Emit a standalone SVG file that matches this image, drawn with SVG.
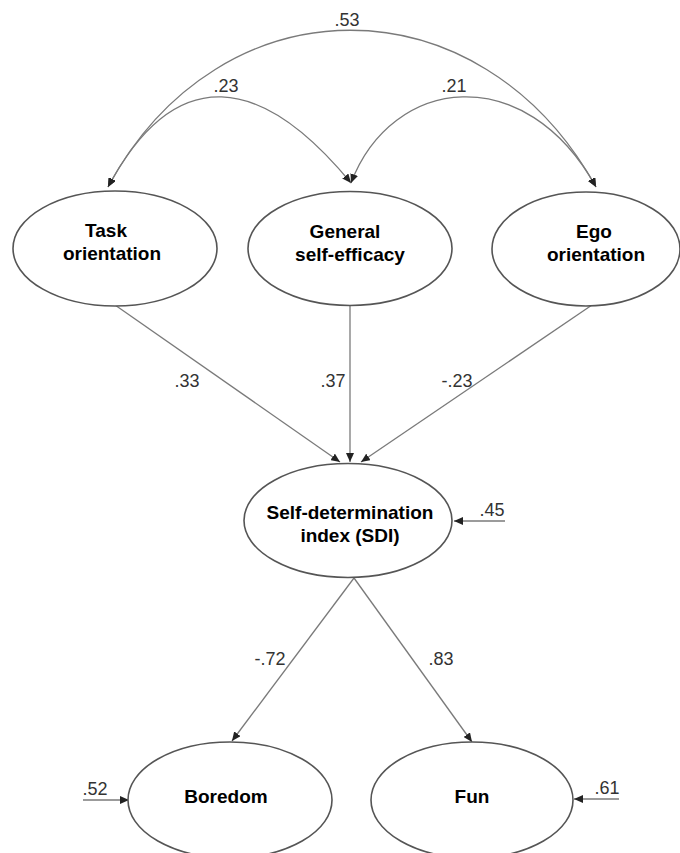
<svg xmlns="http://www.w3.org/2000/svg" width="680" height="853" viewBox="0 0 680 853">
<defs>
<marker id="ah" markerUnits="userSpaceOnUse" markerWidth="10" markerHeight="8" refX="9" refY="4" orient="auto-start-reverse">
<path d="M0,0 L9,4 L0,8 Z" fill="#222"/>
</marker>
<style>
.node{fill:#fff;stroke:#555;stroke-width:1.6}
.lbl{font-family:"Liberation Sans",Arial,sans-serif;font-weight:bold;font-size:19px;fill:#000;text-anchor:middle}
.num{font-family:"Liberation Sans",Arial,sans-serif;font-size:18px;fill:#333;text-anchor:middle}
.c{fill:none;stroke:#7a7a7a;stroke-width:1.3}
</style>
</defs>
<rect width="680" height="853" fill="#fff"/>
<g id="connectors">
<path class="c" d="M108,187 C220,-22 480,-22 596,187" marker-start="url(#ah)" marker-end="url(#ah)"/>
<path class="c" d="M108,187 C176,60 262,75 351,183" marker-start="url(#ah)" marker-end="url(#ah)"/>
<path class="c" d="M351,183 C392,75 526,60 596,187" marker-start="url(#ah)" marker-end="url(#ah)"/>
<line class="c" x1="115" y1="305" x2="340" y2="462" marker-end="url(#ah)"/>
<line class="c" x1="350" y1="305" x2="350" y2="462" marker-end="url(#ah)"/>
<line class="c" x1="592" y1="305" x2="361" y2="462" marker-end="url(#ah)"/>
<line class="c" x1="354" y1="578" x2="232" y2="741" marker-end="url(#ah)"/>
<line class="c" x1="354" y1="578" x2="472" y2="742" marker-end="url(#ah)"/>
<line class="c" x1="505" y1="521" x2="454" y2="521" marker-end="url(#ah)"/>
<line class="c" x1="83" y1="800" x2="129" y2="800" marker-end="url(#ah)"/>
<line class="c" x1="619" y1="799" x2="574" y2="799" marker-end="url(#ah)"/>
<text class="num" x="347" y="26">.53</text>
<text class="num" x="226" y="92">.23</text>
<text class="num" x="454" y="92">.21</text>
<text class="num" x="187" y="387">.33</text>
<text class="num" x="333" y="387">.37</text>
<text class="num" x="457" y="387">-.23</text>
<text class="num" x="492" y="516">.45</text>
<text class="num" x="270" y="665">-.72</text>
<text class="num" x="441" y="665">.83</text>
<text class="num" x="95" y="795">.52</text>
<text class="num" x="607" y="794">.61</text>
</g>
<g id="task">
<ellipse class="node" cx="115" cy="248.5" rx="102" ry="57.5"/>
<text class="lbl" x="106" y="237">Task</text>
<text class="lbl" x="112" y="260">orientation</text>
</g>
<g id="efficacy">
<ellipse class="node" cx="350" cy="248.5" rx="102" ry="57"/>
<text class="lbl" x="345" y="238">General</text>
<text class="lbl" x="350" y="261">self-efficacy</text>
</g>
<g id="ego">
<ellipse class="node" cx="586" cy="249" rx="94" ry="57"/>
<text class="lbl" x="594" y="238">Ego</text>
<text class="lbl" x="596" y="261">orientation</text>
</g>
<g id="sdi">
<ellipse class="node" cx="348" cy="520.5" rx="104" ry="57"/>
<text class="lbl" x="350" y="519">Self-determination</text>
<text class="lbl" x="350" y="542">index (SDI)</text>
</g>
<g id="boredom">
<ellipse class="node" cx="230" cy="800" rx="102" ry="58"/>
<text class="lbl" x="226" y="803">Boredom</text>
</g>
<g id="fun">
<ellipse class="node" cx="472" cy="800" rx="101" ry="58"/>
<text class="lbl" x="472" y="803">Fun</text>
</g>
</svg>
